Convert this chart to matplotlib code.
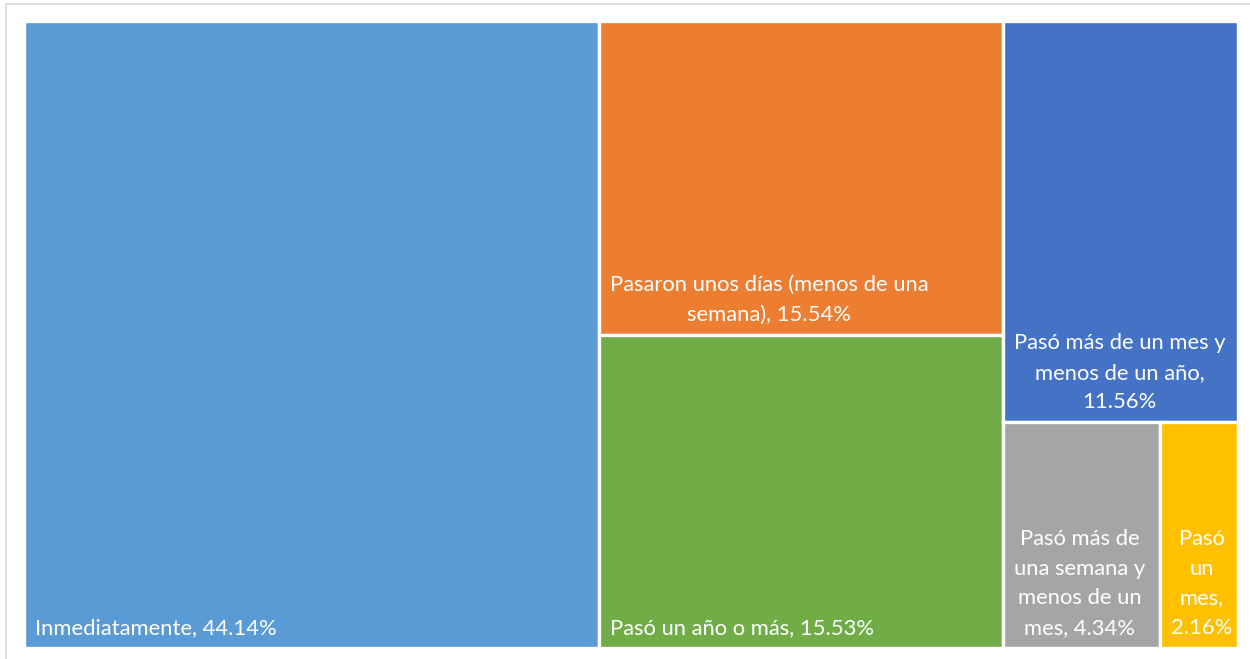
import matplotlib
matplotlib.use("Agg")
import matplotlib.pyplot as plt
from matplotlib.patches import Rectangle

categories = [
    "Inmediatamente",
    "Pasaron unos días (menos de una semana)",
    "Pasó un año o más",
    "Pasó más de un mes y menos de un año",
    "Pasó más de una semana y menos de un mes",
    "Pasó un mes",
]
values = [44.14, 15.54, 15.53, 11.56, 4.34, 2.16]
labels = [
    "Inmediatamente, 44.14%",
    "Pasaron unos días (menos de una\nsemana), 15.54%",
    "Pasó un año o más, 15.53%",
    "Pasó más de un mes y\nmenos de un año,\n11.56%",
    "Pasó más de\nuna semana y\nmenos de un\nmes, 4.34%",
    "Pasó\nun\nmes,\n2.16%",
]
colors = ["#5B9BD5", "#ED7D31", "#70AD47", "#4472C4", "#A5A5A5", "#FFC000"]


def worst(row, side):
    s = sum(row)
    return max(max(side * side * r / (s * s), (s * s) / (side * side * r)) for r in row)


def layout_row(row, x, y, w, h):
    s = sum(row)
    rects = []
    if w >= h:  # column on the left, stacked top to bottom
        cw = s / h
        cy = y + h
        for r in row:
            rh = r / cw
            cy -= rh
            rects.append((x, cy, cw, rh))
        return rects, (x + cw, y, w - cw, h)
    else:  # row at the top, left to right
        rh = s / w
        cx = x
        for r in row:
            rw = r / rh
            rects.append((cx, y + h - rh, rw, rh))
            cx += rw
        return rects, (x, y, w, h - rh)


def squarify(vals, x, y, w, h):
    total = sum(vals)
    areas = [v * w * h / total for v in vals]
    rects = []
    rect = (x, y, w, h)
    i = 0
    while i < len(areas):
        row = [areas[i]]
        i += 1
        side = min(rect[2], rect[3])
        while i < len(areas) and worst(row + [areas[i]], side) <= worst(row, side):
            row.append(areas[i])
            i += 1
        r, rect = layout_row(row, *rect)
        rects.extend(r)
    return rects


FW, FH = 1250, 659
fig = plt.figure(figsize=(FW / 100, FH / 100), dpi=100)
fig.patch.set_facecolor("white")

# outer light frame
fig.add_artist(Rectangle((6 / FW, -0.05), 1.1, (FH - 4) / FH + 0.05, transform=fig.transFigure,
                         fill=False, edgecolor="#D9D9D9", linewidth=1.2))

left, top, right, bottom = 24, 21, 1238, 648
W, H = right - left, bottom - top
ax = fig.add_axes([left / FW, (FH - bottom) / FH, W / FW, H / FH])
ax.set_xlim(0, W)
ax.set_ylim(0, H)
ax.axis("off")

rects = squarify(values, 0, 0, W, H)
for (rx, ry, rw, rh), lab, col in zip(rects, labels, colors):
    ax.add_patch(Rectangle((rx, ry), rw, rh, facecolor=col, edgecolor="white", linewidth=2.4))
    ax.text(rx + 11, ry + 10, lab, ha="left", va="bottom", multialignment="center",
            color="white", fontsize=15.8, family="Lato", linespacing=1.6)

fig.savefig("out.png", dpi=100, facecolor="white")
